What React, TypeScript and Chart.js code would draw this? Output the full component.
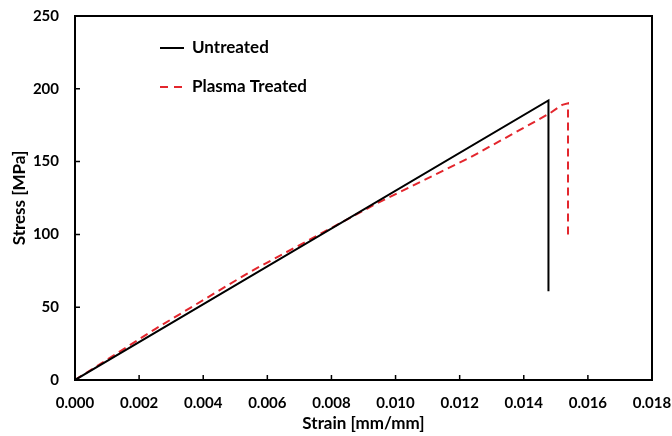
import React, { useEffect, useRef } from "react";
import { Chart, registerables } from "chart.js";

Chart.register(...registerables);

const untreatedStrain = [0, 0.01477, 0.01477];
const untreatedStress = [0, 192, 61];
const plasmaStrain = [0, 0.0025, 0.00547, 0.00944, 0.01234, 0.0148, 0.0152, 0.01538, 0.01538];
const plasmaStress = [0, 35, 74.4, 121.6, 153, 183, 189, 190, 98];
const xTicks = [0, 0.002, 0.004, 0.006, 0.008, 0.01, 0.012, 0.014, 0.016, 0.018];
const yTicks = [0, 50, 100, 150, 200, 250];
const seriesNames = ["Untreated", "Plasma Treated"];

const FONT = "Lato, 'Open Sans', sans-serif";
const RED = "#e3262d";

const framePlugin = {
  id: "frame",
  afterDraw(chart: any) {
    const { ctx, chartArea: a, scales } = chart;
    ctx.save();
    ctx.strokeStyle = "#000";
    ctx.lineWidth = 2;
    ctx.strokeRect(a.left, a.top, a.right - a.left, a.bottom - a.top);
    ctx.lineWidth = 1.5;
    ctx.beginPath();
    xTicks.forEach((t) => {
      const x = scales.x.getPixelForValue(t);
      ctx.moveTo(x, a.bottom);
      ctx.lineTo(x, a.bottom - 5);
    });
    yTicks.forEach((t) => {
      const y = scales.y.getPixelForValue(t);
      ctx.moveTo(a.left, y);
      ctx.lineTo(a.left + 5, y);
    });
    ctx.stroke();
    // legend
    const lx = a.left + 85;
    const rows = [
      { y: a.top + 32, color: "#000", dash: [] as number[] },
      { y: a.top + 71, color: RED, dash: [8, 6] },
    ];
    rows.forEach((r, i) => {
      ctx.strokeStyle = r.color;
      ctx.lineWidth = 2;
      ctx.setLineDash(r.dash);
      ctx.beginPath();
      ctx.moveTo(lx, r.y);
      ctx.lineTo(lx + 24, r.y);
      ctx.stroke();
      ctx.setLineDash([]);
      ctx.fillStyle = "#000";
      ctx.font = `bold 17px ${FONT}`;
      ctx.textBaseline = "middle";
      ctx.textAlign = "left";
      ctx.fillText(seriesNames[i], lx + 32, r.y);
    });
    ctx.restore();
  },
};

export default function App() {
  const ref = useRef<HTMLCanvasElement>(null);
  useEffect(() => {
    document.body.style.margin = "0";
    const chart = new Chart(ref.current!, {
      type: "scatter",
      data: {
        datasets: [
          {
            label: seriesNames[0],
            data: untreatedStrain.map((x, i) => ({ x, y: untreatedStress[i] })),
            showLine: true,
            borderColor: "#000",
            borderWidth: 2,
            pointRadius: 0,
            tension: 0,
          },
          {
            label: seriesNames[1],
            data: plasmaStrain.map((x, i) => ({ x, y: plasmaStress[i] })),
            showLine: true,
            borderColor: RED,
            borderWidth: 2,
            borderDash: [8, 5],
            pointRadius: 0,
            tension: 0,
          },
        ],
      },
      options: {
        animation: false,
        responsive: false,
        layout: { padding: { left: 9, top: 16, right: 20, bottom: 0 } },
        plugins: { legend: { display: false }, tooltip: { enabled: false } },
        scales: {
          x: {
            type: "linear",
            min: 0,
            max: 0.018,
            afterBuildTicks: (s: any) => {
              s.ticks = xTicks.map((v) => ({ value: v }));
            },
            afterFit: (s: any) => {
              s.height = 56;
              s.paddingLeft = 0;
              s.paddingRight = 0;
              s.paddingTop = 0;
              s.paddingBottom = 0;
            },
            ticks: {
              color: "#000",
              font: { family: FONT, size: 15, weight: "bold" },
              padding: 14,
              maxRotation: 0,
              callback: (v: any) => Number(v).toFixed(3),
            },
            grid: { display: false, drawTicks: false },
            border: { display: false },
            title: {
              display: true,
              text: "Strain [mm/mm]",
              color: "#000",
              font: { family: FONT, size: 17, weight: "bold" },
              padding: { top: 0, bottom: 2 },
            },
          },
          y: {
            type: "linear",
            min: 0,
            max: 250,
            afterBuildTicks: (s: any) => {
              s.ticks = yTicks.map((v) => ({ value: v }));
            },
            afterFit: (s: any) => {
              s.width = 66;
              s.paddingLeft = 0;
              s.paddingRight = 0;
              s.paddingTop = 0;
              s.paddingBottom = 0;
            },
            ticks: {
              color: "#000",
              font: { family: FONT, size: 15, weight: "bold" },
              padding: 16,
            },
            grid: { display: false, drawTicks: false },
            border: { display: false },
            title: {
              display: true,
              text: "Stress [MPa]",
              color: "#000",
              font: { family: FONT, size: 17, weight: "bold" },
              padding: { top: 0, bottom: 0 },
            },
          },
        },
      },
      plugins: [framePlugin],
    });
    return () => chart.destroy();
  }, []);
  return (
    <div style={{ width: 672, height: 436 }}>
      <canvas ref={ref} width={672} height={436} />
    </div>
  );
}
